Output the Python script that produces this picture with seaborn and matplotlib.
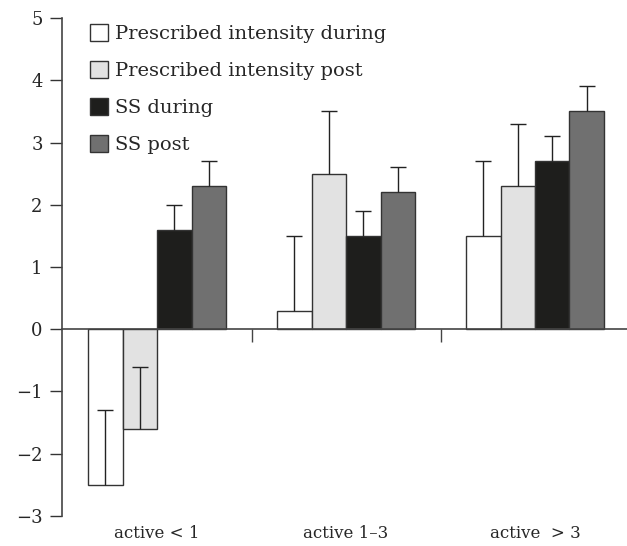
import matplotlib
matplotlib.use("Agg")
import matplotlib.pyplot as plt
import seaborn as sns
import pandas as pd

# data
groups = ["active < 1", "active 1\u20133", "active  > 3"]
series = ["Prescribed intensity during", "Prescribed intensity post", "SS during", "SS post"]
values = {
    "Prescribed intensity during": [-2.5, 0.3, 1.5],
    "Prescribed intensity post": [-1.6, 2.5, 2.3],
    "SS during": [1.6, 1.5, 2.7],
    "SS post": [2.3, 2.2, 3.5],
}
errors = {
    "Prescribed intensity during": [1.2, 1.2, 1.2],
    "Prescribed intensity post": [1.0, 1.0, 1.0],
    "SS during": [0.4, 0.4, 0.4],
    "SS post": [0.4, 0.4, 0.4],
}
colours = ["#ffffff", "#e2e2e2", "#1e1e1c", "#707070"]

rows = []
for s in series:
    for g, v in zip(groups, values[s]):
        rows.append({"group": g, "series": s, "value": v})
df = pd.DataFrame(rows)

sns.set_style("ticks")
plt.rcParams["font.family"] = ["DejaVu Serif"]

fig = plt.figure(figsize=(6.27, 5.46), dpi=100)
ax = fig.add_axes([0.099, 0.055, 0.901, 0.912])

sns.barplot(data=df, x="group", y="value", hue="series", hue_order=series,
            palette=colours, width=0.73, edgecolor="#333333", linewidth=1.0,
            errorbar=None, ax=ax, legend=True, saturation=1)

# one-sided error bars, always pointing up, cap only at the top
for cont, s in zip(ax.containers, series):
    xs = [b.get_x() + b.get_width() / 2 for b in cont]
    ys = values[s]
    _, caps, _ = ax.errorbar(xs, ys, yerr=[[0] * len(ys), errors[s]], fmt="none",
                             ecolor="#222222", elinewidth=1.0, capsize=5.5,
                             capthick=1.0, zorder=3)
    caps[0].set_visible(False)

ax.set_ylim(-3, 5)
ax.set_xlim(-0.503, 2.487)
ax.set_yticks(range(-3, 6))
ax.tick_params(axis="y", length=9, width=1.0, color="#333333", labelsize=13, pad=5)

ax.spines["bottom"].set_position(("data", 0))
ax.spines["top"].set_visible(False)
ax.spines["right"].set_visible(False)
for sp in ["left", "bottom"]:
    ax.spines[sp].set_linewidth(1.2)
    ax.spines[sp].set_color("#444444")

ax.set_xticks([0.5, 1.5])
ax.set_xticklabels([])
ax.tick_params(axis="x", direction="out", length=9, width=1.0, color="#444444")
ax.set_xlabel("")
ax.set_ylabel("")

for i, g in enumerate(groups):
    ax.text(i, -3.28, g, ha="center", va="center", fontsize=12, clip_on=False)

leg = ax.legend(loc="upper left", bbox_to_anchor=(0.035, 1.004), frameon=False,
                fontsize=14, handlelength=0.95, handleheight=0.95, handletextpad=0.35,
                labelspacing=0.93, borderaxespad=0)
for h in leg.legend_handles:
    h.set_edgecolor("#333333")
    h.set_linewidth(1.0)

fig.savefig("out.png", dpi=100)
